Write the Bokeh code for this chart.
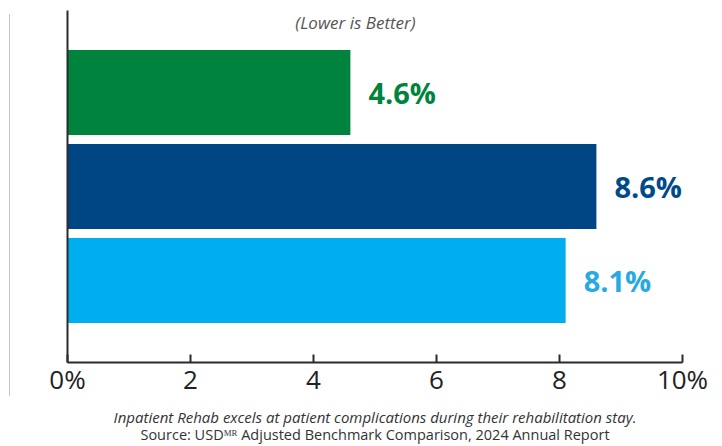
from bokeh.plotting import figure
from bokeh.models import (FactorRange, Range1d, FixedTicker, Label, Title, Div,
                          ColumnDataSource, CustomJSTickFormatter)
from bokeh.layouts import row
from bokeh.embed import file_html
from bokeh.resources import INLINE
from bokeh.core.properties import value

# ---- data ----
categories = ["Inpatient Rehab", "National Benchmark", "Regional Benchmark"]
rates = [4.6, 8.6, 8.1]
bar_colors = ["#00843D", "#004684", "#00AEEF"]
label_colors = ["#00843D", "#004A8B", "#29A9E1"]
tick_values = [0, 2, 4, 6, 8, 10]
tick_labels = ["0%", "2", "4", "6", "8", "10%"]
subtitle = "(Lower is Better)"
caption = "Inpatient Rehab excels at patient complications during their rehabilitation stay."
source_note = "Source: USD\u1d39\u1d3f Adjusted Benchmark Comparison, 2024 Annual Report"

FONT = "Open Sans"

src = ColumnDataSource(dict(
    cat=categories,
    rate=rates,
    color=bar_colors,
    lcolor=label_colors,
    text=[f"{r:.1f}%" for r in rates],
))

p = figure(
    width=710, height=446,
    y_range=FactorRange(factors=categories[::-1], range_padding=0.248),
    x_range=Range1d(0, 10),
    output_backend="svg", toolbar_location=None,
    min_border_left=55, min_border_right=40, min_border_top=10, min_border_bottom=84,
)
p.outline_line_color = None
p.xgrid.visible = False
p.ygrid.visible = False

p.hbar(y="cat", left=0, right="rate", height=0.904, fill_color="color",
       line_color=None, source=src)
p.text(x="rate", y="cat", text="text", text_color="lcolor", x_offset=18,
       text_baseline="middle", text_align="left", text_font_size="29px",
       text_font_style="bold", text_font=value(FONT), source=src)

# x axis
xa = p.xaxis[0]
xa.ticker = FixedTicker(ticks=tick_values)
xa.formatter = CustomJSTickFormatter(args=dict(vals=tick_values, labs=tick_labels),
                                     code="const i = vals.indexOf(tick); return i >= 0 ? labs[i] : '';")
xa.axis_line_color = "#2b2b2b"
xa.axis_line_width = 2
xa.major_tick_in = 8
xa.major_tick_out = 0
xa.major_tick_line_color = "#2b2b2b"
xa.major_tick_line_width = 2
xa.minor_tick_line_color = None
xa.major_label_text_font = FONT
xa.major_label_text_font_size = "26px"
xa.major_label_text_color = "#222222"
xa.major_label_standoff = -2

# y axis: plain line only (category names are not shown in the chart)
ya = p.yaxis[0]
ya.axis_line_color = "#2b2b2b"
ya.axis_line_width = 2
ya.major_tick_line_color = None
ya.minor_tick_line_color = None
ya.major_label_text_color = None
ya.major_label_text_font_size = "8px"

# subtitle at the top of the plot area
p.add_layout(Label(x=288, y=352, x_units="screen", y_units="screen", text=subtitle,
                   text_align="center", text_baseline="top", text_font=FONT,
                   text_font_size="17px", text_font_style="italic", text_color="#555555"))

# footers
p.add_layout(Title(text=caption, align="center", text_font=FONT, text_font_size="15px",
                   text_font_style="italic", text_color="#333333", standoff=10), "below")
p.add_layout(Title(text=source_note, align="center", vertical_align="top", text_font=FONT,
                   text_font_size="14.5px", text_font_style="normal", text_color="#333333",
                   standoff=-14), "below")

# decorative gray rule at the far left
rule = Div(text='<div style="margin-left:9px;margin-top:14px;width:0;height:382px;'
                'border-left:1.5px solid #c4c4c4"></div>',
           width=12, height=446, margin=0)

layout = row(rule, p)
open("out.html", "w").write(file_html(layout, INLINE))
